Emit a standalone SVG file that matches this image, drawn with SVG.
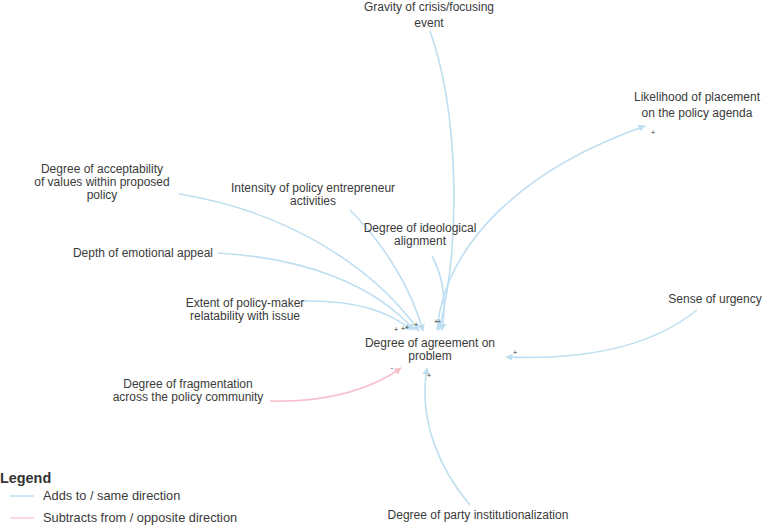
<svg xmlns="http://www.w3.org/2000/svg" width="774" height="526" viewBox="0 0 774 526">
<defs>
<style>
text{font-family:"Liberation Sans",Arial,sans-serif;font-size:12px;fill:#3a3a3a}
.n text{text-anchor:middle}
.pos{fill:none;stroke:#bfdff0;stroke-width:1.6}
.neg{fill:none;stroke:#f6c3cd;stroke-width:1.6}
.pol{font-size:7px;fill:#333;text-anchor:middle}
.lg{font-size:12.8px}
</style>
<marker id="ab" viewBox="0 0 10 10" refX="9" refY="5" markerWidth="4.5" markerHeight="4.5" orient="auto"><path d="M0,0 L10,5 L0,10 z" fill="#bfdff0"/></marker>
<marker id="ar" viewBox="0 0 10 10" refX="9" refY="5" markerWidth="4.5" markerHeight="4.5" orient="auto"><path d="M0,0 L10,5 L0,10 z" fill="#f6c3cd"/></marker>
</defs>
<rect width="774" height="526" fill="#ffffff"/>
<g id="connectors">
<path class="pos" marker-end="url(#ab)" d="M430,31 C458,110 462,240 439,330"/>
<path class="pos" marker-end="url(#ab)" d="M437,330 C445,245 520,170 645,126"/>
<path class="pos" marker-end="url(#ab)" d="M179,194 C280,210 370,262 419,331"/>
<path class="pos" marker-end="url(#ab)" d="M350,210 C385,245 412,290 423,331"/>
<path class="pos" marker-end="url(#ab)" d="M432,256 C444,278 446,305 442,330"/>
<path class="pos" marker-end="url(#ab)" d="M218,253 C305,258 375,285 414,330"/>
<path class="pos" marker-end="url(#ab)" d="M302,301 C350,300 388,310 411,330"/>
<path class="pos" marker-end="url(#ab)" d="M697,310 C650,348 580,360 506,357"/>
<path class="neg" marker-end="url(#ar)" d="M270,401 C330,403 375,387 401,368"/>
<path class="pos" marker-end="url(#ab)" d="M470,505 C440,470 418,420 427,368"/>
<text class="pol" x="396" y="332">+</text>
<text class="pol" x="403" y="331">+</text>
<text class="pol" x="407" y="330">+</text>
<text class="pol" x="416" y="327">+</text>
<text class="pol" x="436" y="324">+</text>
<text class="pol" x="439" y="324">+</text>
<text class="pol" x="653" y="135">+</text>
<text class="pol" x="515" y="355">+</text>
<text class="pol" x="392" y="370">-</text>
<text class="pol" x="429" y="378">+</text>
</g>
<g id="n-gravity" class="n"><text x="429" y="11">Gravity of crisis/focusing</text><text x="429" y="27">event</text></g>
<g id="n-likelihood" class="n"><text x="697" y="101">Likelihood of placement</text><text x="697" y="117">on the policy agenda</text></g>
<g id="n-acceptability" class="n"><text x="102" y="173">Degree of acceptability</text><text x="102" y="186">of values within proposed</text><text x="102" y="199">policy</text></g>
<g id="n-intensity" class="n"><text x="313" y="192">Intensity of policy entrepreneur</text><text x="313" y="205">activities</text></g>
<g id="n-ideological" class="n"><text x="420" y="232">Degree of ideological</text><text x="420" y="245">alignment</text></g>
<g id="n-emotional" class="n"><text x="143" y="257">Depth of emotional appeal</text></g>
<g id="n-extent" class="n"><text x="245" y="307">Extent of policy-maker</text><text x="245" y="320">relatability with issue</text></g>
<g id="n-urgency" class="n"><text x="715" y="303">Sense of urgency</text></g>
<g id="n-agreement" class="n"><text x="430" y="347">Degree of agreement on</text><text x="430" y="360">problem</text></g>
<g id="n-fragmentation" class="n"><text x="188" y="388">Degree of fragmentation</text><text x="188" y="401">across the policy community</text></g>
<g id="n-party" class="n"><text x="478" y="519">Degree of party institutionalization</text></g>
<g id="legend">
<text x="0" y="483" style="font-size:14.4px;font-weight:bold;fill:#333">Legend</text>
<line x1="10" y1="496" x2="34" y2="496" stroke="#9ccfe4" stroke-width="1"/>
<text class="lg" x="43" y="500">Adds to / same direction</text>
<line x1="10" y1="518" x2="34" y2="518" stroke="#f4b3c0" stroke-width="1"/>
<text class="lg" x="43" y="522">Subtracts from / opposite direction</text>
</g>
</svg>
